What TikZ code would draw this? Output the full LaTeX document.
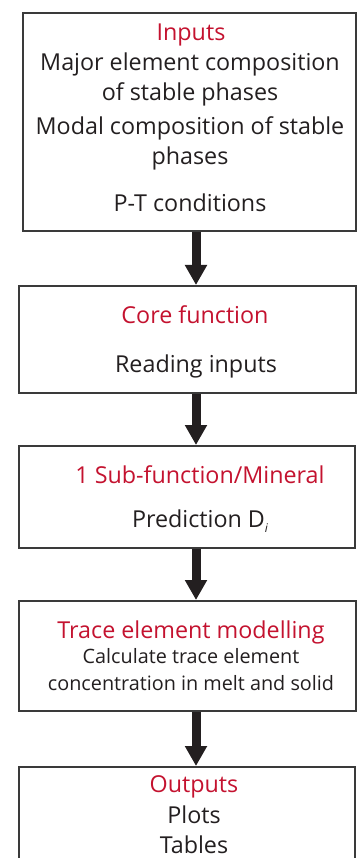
\documentclass[tikz,border=0pt]{standalone}
\usepackage{fontspec}
\setmainfont{Open Sans}
\usetikzlibrary{arrows.meta}
\definecolor{redt}{HTML}{C4122F}
\definecolor{darkt}{HTML}{231F20}
\definecolor{boxline}{HTML}{3A3A3A}
\tikzset{
  box/.style={draw=boxline, line width=2pt, rectangle, inner sep=0pt, fill=white},
  head/.style={anchor=base, text=redt, font=\fontsize{23.3}{27}\selectfont, inner sep=0pt},
  body/.style={anchor=base, text=darkt, font=\fontsize{23.3}{27}\selectfont, inner sep=0pt},
  small/.style={anchor=base, text=darkt, font=\fontsize{19.8}{23}\selectfont, inner sep=0pt},
  flow/.style={draw=darkt, line width=9pt, -{Triangle[width=21pt,length=20pt]}}
}
\begin{document}
\begin{tikzpicture}[x=1pt,y=-1pt]
\useasboundingbox (0,0) rectangle (357,858);
\fill[white] (0,0) rectangle (357,858);
% boxes
\node[box, minimum width=333pt, minimum height=218pt] (b1) at (189.5,122) {};
\node[box, minimum width=337pt, minimum height=107pt] (b2) at (187.5,339.5) {};
\node[box, minimum width=336pt, minimum height=102pt] (b3) at (187,497) {};
\node[box, minimum width=337pt, minimum height=110pt] (b4) at (187.5,656) {};
\node[box, minimum width=336pt, minimum height=113pt] (b5) at (187,823.5) {};
% arrow axis
\coordinate (ax) at (196,0);
\draw[flow] (b1.south -| ax) -- (b2.north -| ax);
\draw[flow] (b2.south -| ax) -- (b3.north -| ax);
\draw[flow] (b3.south -| ax) -- (b4.north -| ax);
\draw[flow] (b4.south -| ax) -- (b5.north -| ax);
% texts box 1
\node[head] (t11) at (191,41) {Inputs};
\node[body] (t12) at (190,71) {Major element composition};
\node[body] (t13) at (190,101) {of stable phases};
\node[body] (t14) at (190,135) {Modal composition of stable};
\node[body] (t15) at (190,165) {phases};
\node[body] (t16) at (190,212) {P-T conditions};
% box 2
\node[head] (t21) at (195,323) {Core function};
\node[body] (t22) at (196,372) {Reading inputs};
% box 3
\node[head] (t31) at (200,483) {1 Sub-function/Mineral};
\node[body] (t32) at (200,527) {Prediction D\raisebox{-5pt}{\fontsize{12}{12}\selectfont\itshape i}};
% box 4
\node[head] (t41) at (191,638) {Trace element modelling};
\node[small] (t42) at (191,663) {Calculate trace element};
\node[small] (t43) at (191,690) {concentration in melt and solid};
% box 5
\node[head] (t51) at (194,792) {Outputs};
\node[body] (t52) at (194,823) {Plots};
\node[body] (t53) at (194,853) {Tables};
\end{tikzpicture}
\end{document}
